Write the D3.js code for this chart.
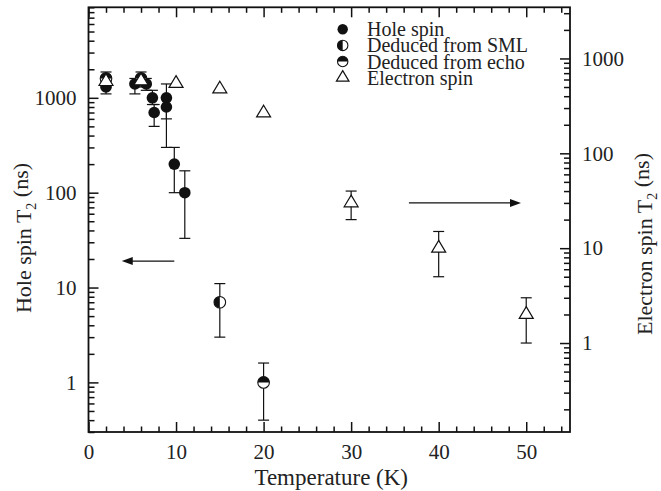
<!DOCTYPE html>
<html>
<head>
<meta charset="utf-8">
<script src="https://cdn.jsdelivr.net/npm/d3@7"></script>
<style>
  body { margin: 0; background: #fff; }
  svg text { font-family: "Liberation Serif", "Times New Roman", serif; fill: #222; }
</style>
</head>
<body>
<div id="chart"></div>
<script>
// Hole spin T2 (left axis): [temperature K, T2 ns, err low, err high]
const holeSpin = [
  [2, 1300, 1100, 1500],
  [5.3, 1400, 1100, 1600],
  [6.6, 1400, 1200, 1600],
  [7.3, 1000, 850, 1200],
  [7.5, 700, 500, 850],
  [8.9, 1000, 600, 1400],
  [8.9, 800, 300, 1000],
  [9.8, 200, 100, 300],
  [11, 100, 33, 170]
];
// deduced from SML (left axis)
const fromSML = [
  [15, 7, 3, 11]
];
// deduced from echo (left axis), null = no error bar
const fromEcho = [
  [2, 1600, null, null],
  [6, 1600, null, null],
  [20, 1, 0.4, 1.6]
];
// electron spin T2 (right axis)
const electronSpin = [
  [2, 570, 500, 720],
  [6, 580, 500, 720],
  [10, 545, null, null],
  [15, 476, null, null],
  [20, 266, null, null],
  [30, 30, 20, 40],
  [40, 10, 5, 15],
  [50, 2, 1, 3]
];

const xMajor = [0, 10, 20, 30, 40, 50];
const logMajor = [1, 10, 100, 1000];
const legendLabels = ["Hole spin", "Deduced from SML", "Deduced from echo", "Electron spin"];

// arrows: [fromT, toT, value, axis]
const arrows = [
  [9.8, 3.8, 19, "left"],
  [36.6, 49.4, 30, "right"]
];

const width = 661, height = 491;
const margin = { top: 7.3, right: 91, bottom: 59, left: 88.5 };

const svg = d3.select("#chart").append("svg")
  .attr("width", width)
  .attr("height", height);

const x = d3.scaleLinear().domain([0, 55]).range([margin.left, width - margin.right]);
const yL = d3.scaleLog().domain([0.3, 9000]).range([height - margin.bottom, margin.top]);
const yR = d3.scaleLog().domain([0.3 / 2.6, 9000 / 2.6]).range([height - margin.bottom, margin.top]);

function minorTicks(scale) {
  const [a, b] = scale.domain();
  const out = [];
  for (let e = -2; e <= 4; e++) {
    for (let m = 2; m <= 9; m++) {
      const v = m * Math.pow(10, e);
      if (v >= a && v <= b) out.push(v);
    }
  }
  return out;
}
const xMinor = d3.range(0, 56, 2).filter(v => v % 10 !== 0);

const fontSize = 21;

// axes
function drawAxis(axis, transform, withLabels) {
  const g = svg.append("g").attr("transform", transform).call(axis);
  g.select(".domain").remove();
  g.selectAll(".tick line").attr("stroke", "#111").attr("stroke-width", 1.5);
  g.selectAll("text").style("font-size", fontSize + "px").attr("fill", "#222");
  if (!withLabels) g.selectAll("text").remove();
  return g;
}

const bottomY = height - margin.bottom;
const rightX = width - margin.right;

drawAxis(d3.axisBottom(x).tickValues(xMajor).tickSize(-10).tickPadding(12).tickFormat(d3.format("d")), `translate(0,${bottomY})`, true);
drawAxis(d3.axisBottom(x).tickValues(xMinor).tickSize(-5.5), `translate(0,${bottomY})`, false);
drawAxis(d3.axisTop(x).tickValues(xMajor).tickSize(-10), `translate(0,${margin.top})`, false);
drawAxis(d3.axisTop(x).tickValues(xMinor).tickSize(-5.5), `translate(0,${margin.top})`, false);

drawAxis(d3.axisLeft(yL).tickValues(logMajor).tickSize(-10).tickPadding(12).tickFormat(d3.format("d")), `translate(${margin.left},0)`, true);
drawAxis(d3.axisLeft(yL).tickValues(minorTicks(yL)).tickSize(-6), `translate(${margin.left},0)`, false);
drawAxis(d3.axisRight(yR).tickValues(logMajor).tickSize(-10).tickPadding(12).tickFormat(d3.format("d")), `translate(${rightX},0)`, true);
drawAxis(d3.axisRight(yR).tickValues(minorTicks(yR)).tickSize(-6), `translate(${rightX},0)`, false);

// frame
svg.append("rect")
  .attr("x", margin.left).attr("y", margin.top)
  .attr("width", rightX - margin.left).attr("height", bottomY - margin.top)
  .attr("fill", "none").attr("stroke", "#111").attr("stroke-width", 1.8);

// titles
svg.append("text")
  .attr("x", (margin.left + rightX) / 2 + 2).attr("y", 485)
  .attr("text-anchor", "middle").style("font-size", "23px")
  .text("Temperature (K)");

function yTitle(xPos, yPos, pre) {
  const t = svg.append("text")
    .attr("transform", `translate(${xPos},${yPos}) rotate(-90)`)
    .attr("text-anchor", "middle").style("font-size", "22px");
  t.append("tspan").text(pre + " T");
  t.append("tspan").attr("dy", "0.35em").style("font-size", "14px").text("2");
  t.append("tspan").attr("dy", "-0.35em").text(" (ns)");
}
yTitle(31, 238, "Hole spin");
yTitle(652, 244, "Electron spin");

// markers
const R = 5.8;
function triPath(s) {
  return `M0,${-7.8 * s}L${7 * s},${3.9 * s}L${-7 * s},${3.9 * s}Z`;
}
function drawCircle(g, type, r) {
  if (type === "filled") {
    g.append("circle").attr("r", r).attr("fill", "#111");
  } else if (type === "sml") {
    g.append("circle").attr("r", r).attr("fill", "#fff").attr("stroke", "#111").attr("stroke-width", 1.1);
    g.append("path").attr("d", `M0,${-r}A${r},${r} 0 0 0 0,${r}Z`).attr("fill", "#111");
  } else if (type === "echo") {
    g.append("circle").attr("r", r).attr("fill", "#fff").attr("stroke", "#111").attr("stroke-width", 1.1);
    g.append("path").attr("d", `M${-r},0A${r},${r} 0 0 1 ${r},0Z`).attr("fill", "#111");
  } else if (type === "tri") {
    g.append("path").attr("d", triPath(r / R)).attr("fill", "#fff").attr("stroke", "#111").attr("stroke-width", 1.2);
  }
}

function drawErrors(data, yScale) {
  const g = svg.append("g");
  data.filter(d => d[2] != null).forEach(d => {
    const cx = x(d[0]);
    g.append("line").attr("x1", cx).attr("x2", cx)
      .attr("y1", yScale(d[2])).attr("y2", yScale(d[3]))
      .attr("stroke", "#111").attr("stroke-width", 1.2);
    [d[2], d[3]].forEach(v => {
      g.append("line").attr("x1", cx - 5.5).attr("x2", cx + 5.5)
        .attr("y1", yScale(v)).attr("y2", yScale(v))
        .attr("stroke", "#111").attr("stroke-width", 1.2);
    });
  });
}

function drawPoints(data, yScale, type) {
  data.forEach(d => {
    const g = svg.append("g").attr("transform", `translate(${x(d[0])},${yScale(d[1])})`);
    drawCircle(g, type, R);
  });
}

drawErrors(holeSpin, yL);
drawErrors(fromSML, yL);
drawErrors(fromEcho, yL);
drawErrors(electronSpin, yR);

drawPoints(fromEcho, yL, "echo");
drawPoints(holeSpin, yL, "filled");
drawPoints(fromSML, yL, "sml");
drawPoints(electronSpin, yR, "tri");

// arrows
arrows.forEach(a => {
  const ys = a[3] === "left" ? yL : yR;
  const x1 = x(a[0]), x2 = x(a[1]), yy = ys(a[2]);
  const dir = Math.sign(x2 - x1);
  svg.append("line").attr("x1", x1).attr("x2", x2 - dir * 8).attr("y1", yy).attr("y2", yy)
    .attr("stroke", "#111").attr("stroke-width", 1.3);
  svg.append("path")
    .attr("d", `M${x2},${yy}L${x2 - dir * 11},${yy - 4}L${x2 - dir * 11},${yy + 4}Z`)
    .attr("fill", "#111");
});

// legend (rows are as tightly packed as in the original)
const legendTypes = ["filled", "sml", "echo", "tri"];
const legend = svg.append("g");
legendLabels.forEach((label, i) => {
  const yy = 29.3 + i * 16.1;
  const g = legend.append("g").attr("transform", `translate(342.7,${yy})`);
  drawCircle(g, legendTypes[i], 5.2);
  legend.append("text")
    .attr("x", 367).attr("y", yy)
    .attr("dy", "0.35em")
    .style("font-size", "20px")
    .text(label);
});
</script>
</body>
</html>
